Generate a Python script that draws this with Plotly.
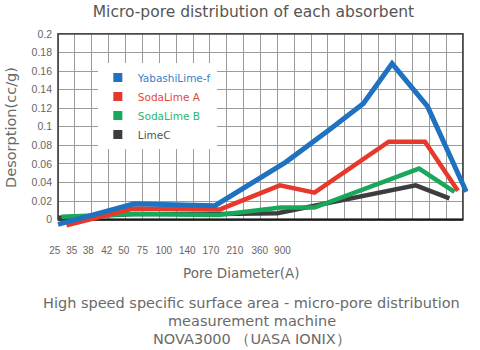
import plotly.graph_objects as go

# ---- data (x in chart grid units, y in cc/g) ----
series_names = ["YabashiLime-f", "SodaLime A", "SodaLime B", "LimeC"]

yabashi_x = [0, 4.5, 9.3, 13.5, 16.1, 18.1, 19.8, 21.9, 24.2]
yabashi_y = [-0.005, 0.017, 0.015, 0.062, 0.097, 0.125, 0.168, 0.122, 0.030]

sodaA_x = [0.5, 4.45, 9.6, 13.15, 15.2, 19.6, 21.75, 23.7]
sodaA_y = [-0.006, 0.012, 0.011, 0.037, 0.029, 0.084, 0.084, 0.031]

sodaB_x = [0.2, 4.5, 9.5, 13.2, 15.2, 21.4, 23.5]
sodaB_y = [0.003, 0.006, 0.005, 0.013, 0.013, 0.055, 0.030]

limeC_x = [0, 4.5, 9.5, 13.0, 21.2, 23.2]
limeC_y = [0.002, 0.006, 0.006, 0.007, 0.037, 0.023]

tick_labels = ["25", "35", "38", "42", "50", "75", "100", "140", "170", "210", "360", "900"]
tick_pos = [-0.2, 0.81, 1.79, 2.89, 3.9, 5.0, 6.27, 7.66, 9.06, 10.48, 11.96, 13.3]

line_colors = ["#1f72bf", "#e8382b", "#19a85a", "#3d3d3d"]
text_colors = ["#3a80c8", "#e8483a", "#2db570", "#555555"]
line_widths = [5, 4.5, 4.5, 4.5]

FONT = "Liberation Sans, Arial, sans-serif"
WFONT = "DejaVu Sans, Verdana, sans-serif"

fig = go.Figure()
data = [(yabashi_x, yabashi_y), (sodaA_x, sodaA_y), (sodaB_x, sodaB_y), (limeC_x, limeC_y)]
# draw LimeC first so it sits below the others
for i in [3, 2, 1, 0]:
    xs, ys = data[i]
    fig.add_trace(go.Scatter(x=xs, y=ys, mode="lines",
                             line=dict(color=line_colors[i], width=line_widths[i]),
                             showlegend=False, hoverinfo="skip"))
for i, nm in enumerate(series_names):
    fig.add_trace(go.Scatter(x=[None], y=[None], mode="markers",
                             marker=dict(symbol="square", size=9, color=line_colors[i]),
                             name=f"<span style='color:{text_colors[i]}'>{nm}</span>"))

XMIN, XMAX = -0.3, 24.3
YMIN, YMAX = -0.009, 0.201
GRID = "#9c9c9c"

shapes = [
    dict(type="rect", xref="x", yref="y", x0=XMIN, x1=0, y0=YMIN, y1=YMAX,
         fillcolor="white", line=dict(width=0), layer="between"),
    dict(type="rect", xref="x", yref="y", x0=24, x1=XMAX, y0=YMIN, y1=YMAX,
         fillcolor="white", line=dict(width=0), layer="between"),
    dict(type="rect", xref="x", yref="y", x0=XMIN, x1=XMAX, y0=YMIN, y1=0,
         fillcolor="white", line=dict(width=0), layer="between"),
    dict(type="rect", xref="x", yref="y", x0=0, x1=24, y0=0, y1=0.2,
         line=dict(color="#4a4a4a", width=1.8), layer="between"),
    dict(type="line", xref="x", yref="y", x0=0, x1=24, y0=0, y1=0,
         line=dict(color="#1a1a1a", width=2.2), layer="between"),
]

W_PLOT_L, W_PLOT_R = 53.2, 468.0
H_PLOT_T, H_PLOT_B = 33.0, 227.7
pw = W_PLOT_R - W_PLOT_L
ph = H_PLOT_B - H_PLOT_T

def px_x(px):
    return (px - W_PLOT_L) / pw

def px_y(py):
    return (H_PLOT_B - py) / ph

def note(text, x, y, size, angle=0):
    return dict(text=text, x=px_x(x), y=px_y(y), xref="paper", yref="paper",
                xanchor="center", yanchor="middle", showarrow=False, textangle=angle,
                font=dict(size=size, color="#6a6a6a", family=WFONT))

annotations = [
    note("Pore Diameter(A)", 242, 273, 13.5),
    note("High speed specific surface area - micro-pore distribution", 252, 303, 14.5),
    note("measurement machine", 252, 321, 14.5),
    note("NOVA3000 （UASA IONIX）", 252, 339, 14.5),
    note("Desorption(cc/g)", 11, 127, 14.5, angle=-90),
]

fig.update_layout(
    width=480, height=350,
    margin=dict(l=W_PLOT_L, r=480 - W_PLOT_R, t=H_PLOT_T, b=350 - H_PLOT_B),
    paper_bgcolor="white", plot_bgcolor="white",
    font=dict(family=FONT, color="#666666"),
    title=dict(text="Micro-pore distribution of each absorbent", x=0.528, xanchor="center",
               y=1 - 12 / 350, yanchor="middle", font=dict(size=15.5, color="#555555", family=WFONT)),
    xaxis=dict(range=[XMIN, XMAX], tickmode="array", tickvals=tick_pos, ticktext=tick_labels,
               showgrid=False, zeroline=False, showline=False, ticks="",
               ticklabelstandoff=15, tickfont=dict(size=10, color="#666666"),
               minor=dict(tickmode="linear", tick0=0, dtick=1, showgrid=True,
                          gridcolor=GRID, gridwidth=1, ticks="")),
    yaxis=dict(range=[YMIN, YMAX], tickmode="linear", tick0=0, dtick=0.02, tickformat=".2~f",
               showgrid=True, gridcolor=GRID, gridwidth=1, zeroline=False, showline=False,
               ticks="", tickfont=dict(size=10.5, color="#666666")),
    legend=dict(x=px_x(98), y=px_y(63), xanchor="left", yanchor="top", bgcolor="white",
                borderwidth=0, font=dict(size=10.5, family=WFONT), itemwidth=30,
                tracegroupgap=0),
    shapes=shapes,
    annotations=annotations,
)

fig.write_html("out.html")
